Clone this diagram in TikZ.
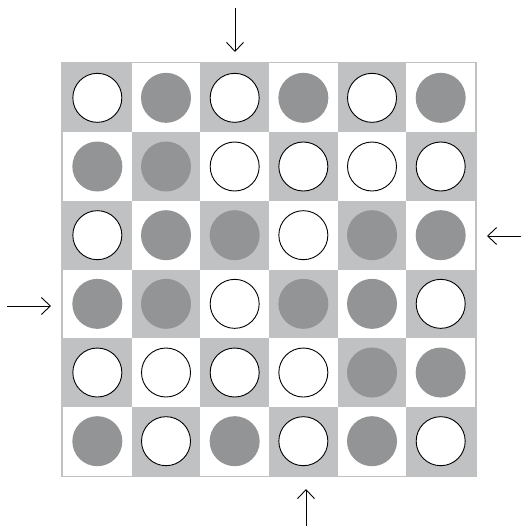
\documentclass[tikz,border=0pt]{standalone}
\usetikzlibrary{arrows.meta}
\definecolor{cellgray}{HTML}{C0C1C3}
\definecolor{diskgray}{HTML}{939495}
\tikzset{
  whitedisk/.style={circle,draw=black,line width=0.9pt,fill=white,minimum size=49pt,inner sep=0pt},
  graydisk/.style={circle,draw=none,fill=diskgray,minimum size=50pt,inner sep=0pt},
  feed/.style={line width=0.9pt,-{Straight Barb[length=9pt,width=17pt,line width=0.9pt]}},
}
\begin{document}
\begin{tikzpicture}[x=1pt,y=-1pt]
\useasboundingbox (0,0) rectangle (528,532);
\fill[cellgray] (61,62) rectangle (477,477);
\def\cs{68.67}
\foreach \r in {0,...,5}{
  \foreach \c in {0,...,5}{
    \pgfmathtruncatemacro{\myparity}{mod(\r+\c,2)}
    \ifnum\myparity=1
      \fill[white] (63+\c*\cs,63.5+\r*\cs) rectangle (63+\c*\cs+\cs,63.5+\r*\cs+\cs);
    \fi
  }
}
\foreach \r/\lst in {0/{1,0,1,0,1,0},1/{0,0,1,1,1,1},2/{1,0,0,1,0,0},3/{0,0,1,0,0,1},4/{1,1,1,1,0,0},5/{0,1,0,1,0,1}}{
  \foreach \v [count=\ci from 0] in \lst {
    \ifnum\v=1
      \node[whitedisk] (d\r\ci) at (63+\ci*\cs+\cs/2,63.5+\r*\cs+\cs/2) {};
    \else
      \node[graydisk] (d\r\ci) at (63+\ci*\cs+\cs/2,63.5+\r*\cs+\cs/2) {};
    \fi
  }
}
\coordinate (ts) at (235,8);   \coordinate (te) at (235,52);
\coordinate (rs) at (521,236); \coordinate (re) at (487,236);
\coordinate (ls) at (7,306);   \coordinate (le) at (51,306);
\coordinate (bs) at (306,526); \coordinate (be) at (306,489);
\draw[feed] (ts) -- (te);
\draw[feed] (rs) -- (re);
\draw[feed] (ls) -- (le);
\draw[feed] (bs) -- (be);
\end{tikzpicture}
\end{document}
